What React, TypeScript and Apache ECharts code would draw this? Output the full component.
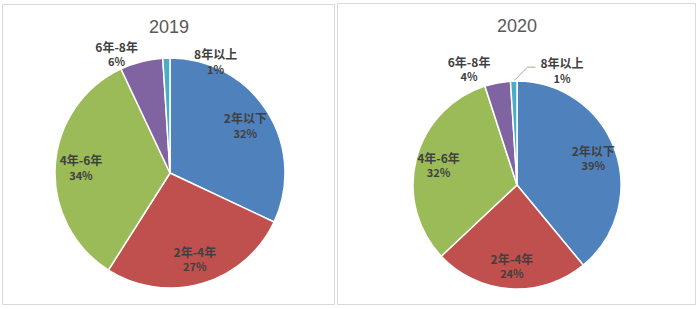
import React, { useEffect, useRef } from "react";
import * as echarts from "echarts";

const categories = ["2年以下", "2年-4年", "4年-6年", "6年-8年", "8年以上"];
const values2019 = [32, 27, 34, 6, 1];
const values2020 = [39, 24, 32, 4, 1];
const years = ["2019", "2020"];
const colors = ["#4F81BD", "#C0504D", "#9BBB59", "#8064A2", "#4BACC6"];

const FONT = "'Noto Sans CJK SC', 'Noto Sans', sans-serif";

const pies = [
  { values: values2019, center: [170, 173], r: 115, titleX: 169, titleY: 27, line: false, offsets: [[0, 0], [0, 0], [0, 0], [9, -2], [82, 9]] },
  { values: values2020, center: [517, 185], r: 104, titleX: 517, titleY: 26, line: true, offsets: [[0, 0], [0, 0], [0, 0], [5, -8], [81, -5]] },
];

const richLabel = {
  n: { fontSize: 12, fontWeight: "bold", color: "#404040", fontFamily: FONT, lineHeight: 15, align: "center" },
  p: { fontSize: 11, fontWeight: "bold", color: "#404040", fontFamily: FONT, lineHeight: 15, align: "center" },
};

export default function App() {
  const ref = useRef<HTMLDivElement>(null);
  useEffect(() => {
    document.body.style.margin = "0";
    const chart = echarts.init(ref.current!, undefined, { renderer: "svg" });
    const series: any[] = [];
    pies.forEach((pc) => {
      series.push({
        type: "pie",
        center: pc.center,
        radius: pc.r,
        startAngle: 90,
        clockwise: true,
        avoidLabelOverlap: false,
        silent: true,
        itemStyle: { borderColor: "#ffffff", borderWidth: 1.5 },
        label: {
          show: true,
          position: "outside",
          formatter: (p: any) => `{n|${p.name}}\n{p|${p.value}%}`,
          rich: richLabel,
        },
        labelLine: { show: false, length: 6, length2: 6, lineStyle: { color: "#a6a6a6", width: 1 } },
        labelLayout: (params: any) => {
          const off = pc.offsets[params.dataIndex];
          const res: any = { dx: off[0], dy: off[1] };
          const pts = params.labelLinePoints;
          if (pc.line && params.dataIndex === 4 && pts && pts.length) {
            const rect = params.labelRect;
            const p0 = pts[0];
            const p2 = [rect.x + off[0] - 5, rect.y + off[1] + rect.height * 0.4];
            const p1 = [p2[0] - 8, p2[1]];
            res.labelLinePoints = [p0, p1, p2];
          }
          return res;
        },
        data: categories.map((c, i) => ({
          name: c,
          value: pc.values[i],
          itemStyle: { color: colors[i] },
          label: { show: i >= 3 },
          labelLine: { show: pc.line && i === 4 },
        })),
      });
      series.push({
        type: "pie",
        center: pc.center,
        radius: [pc.r * 0.5, pc.r],
        startAngle: 90,
        clockwise: true,
        avoidLabelOverlap: false,
        silent: true,
        z: 5,
        itemStyle: { color: "rgba(0,0,0,0)", borderWidth: 0 },
        label: {
          show: true,
          position: "inside",
          formatter: (p: any) => `{n|${p.name}}\n{p|${p.value}%}`,
          rich: richLabel,
        },
        labelLine: { show: false },
        data: categories.map((c, i) => ({
          name: c,
          value: pc.values[i],
          label: { show: i < 3 },
        })),
      });
    });
    chart.setOption({
      animation: false,
      series,
      graphic: [
        { type: "rect", shape: { x: 2.5, y: 4.5, width: 332, height: 300 }, style: { fill: "none", stroke: "#d9d9d9", lineWidth: 1 }, silent: true },
        { type: "rect", shape: { x: 337.5, y: 3.5, width: 358, height: 301 }, style: { fill: "none", stroke: "#d9d9d9", lineWidth: 1 }, silent: true },
        ...pies.map((pc, i) => ({
          type: "text",
          x: pc.titleX,
          y: pc.titleY,
          style: { text: years[i], align: "center", verticalAlign: "middle", fontSize: 18, fill: "#595959", fontFamily: "'Liberation Sans', 'Noto Sans', sans-serif" },
          silent: true,
        })),
      ],
    });
    return () => chart.dispose();
  }, []);
  return <div ref={ref} style={{ position: "fixed", left: 0, top: 0, width: 700, height: 309, background: "#fff" }} />;
}
